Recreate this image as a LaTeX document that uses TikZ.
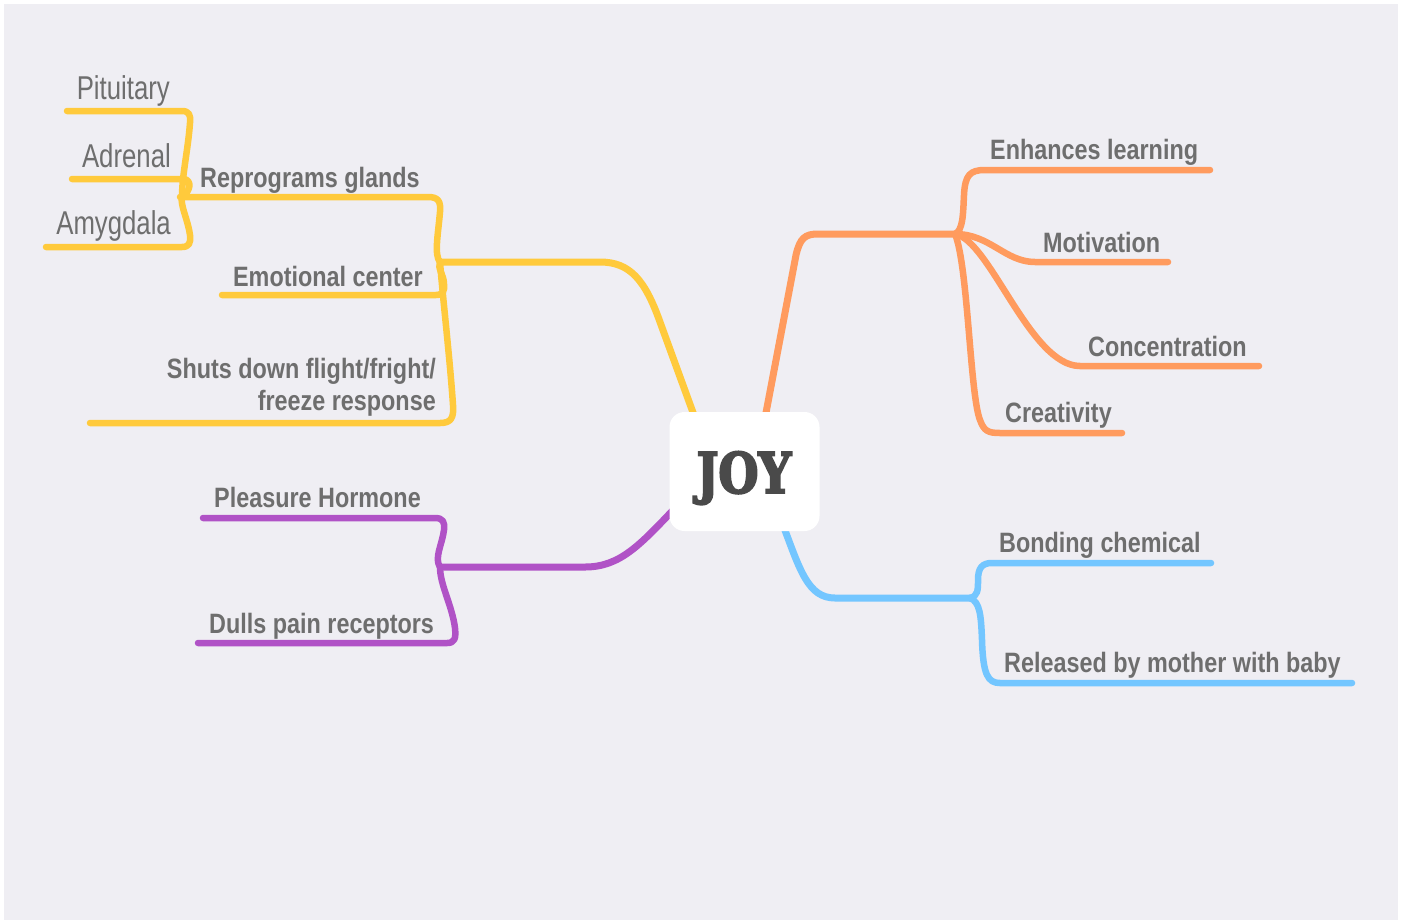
\documentclass[tikz,border=0pt]{standalone}
\usepackage{fontspec}
\setmainfont{Liberation Sans}
\newfontfamily\regf[FakeStretch=0.78]{Liberation Sans}
\newfontfamily\boldf[FakeStretch=0.835]{Liberation Sans}
\newfontfamily\joyf[FakeStretch=0.82,FakeBold=3.5]{DejaVu Serif}
\definecolor{bg}{HTML}{EFEEF3}
\definecolor{yel}{HTML}{FFCA3C}
\definecolor{ora}{HTML}{FF9B5E}
\definecolor{pur}{HTML}{B052C6}
\definecolor{blu}{HTML}{73C6FF}
\definecolor{txt}{RGB}{110,110,110}
\definecolor{joytxt}{HTML}{4A4A4A}
\tikzset{
  br/.style={line width=6.5pt, line cap=round, line join=round},
  mainbr/.style={line width=7pt, line cap=round, line join=round},
  lbl/.style={inner sep=0pt, text=txt, font=\boldf\bfseries\fontsize{28}{32}\selectfont},
  sublbl/.style={inner sep=0pt, text=txt, font=\regf\fontsize{33}{36}\selectfont},
}
\begin{document}
\begin{tikzpicture}[x=1pt,y=-1pt]
\useasboundingbox (0,0) rectangle (1404,922);
\fill[white] (0,0) rectangle (1404,922);
\fill[bg] (4,4) rectangle (1398,920);

% junctions
\coordinate (jy) at (440,262);
\coordinate (jr) at (182,197);
\coordinate (jp) at (440,567);
\coordinate (jo) at (955,234);
\coordinate (jb) at (970,598);
% line ends
\coordinate (eRep) at (180,197);
\coordinate (eEmo) at (222,295);
\coordinate (eShu) at (90,423);
\coordinate (ePit) at (67,111);
\coordinate (eAdr) at (72,179);
\coordinate (eAmy) at (46,247);
\coordinate (ePle) at (203,518);
\coordinate (eDul) at (198,643);
\coordinate (eEnh) at (1210,170);
\coordinate (eMot) at (1168,262);
\coordinate (eCon) at (1259,366);
\coordinate (eCre) at (1122,433);
\coordinate (eBon) at (1211,563);
\coordinate (eRel) at (1352,683);

% main branches
\draw[mainbr, yel] (695,418) -- (660,322) .. controls (645,280) and (630,262) .. (600,262) -- (jy);
\draw[mainbr, ora] (765,418) -- (796,255) .. controls (800,238) and (805,234) .. (818,234) -- (jo);
\draw[mainbr, pur] (676,507) .. controls (640,545) and (620,567) .. (585,567) -- (jp);
\draw[mainbr, blu] (783,525) .. controls (800,570) and (808,598) .. (835,598) -- (jb);

% yellow children
\draw[br, yel] (eRep) -- (428,197) .. controls (438,197) and (441,201) .. (440,212) .. controls (438,235) and (434,255) .. (jy);
\draw[br, yel] (eEmo) -- (436,295) .. controls (443,295) and (445,290) .. (444,284) .. controls (444,275) and (437,268) .. (jy);
\draw[br, yel] (eShu) -- (440,423) .. controls (451,423) and (454,418) .. (453,405) .. controls (450,360) and (443,300) .. (jy);
\draw[br, yel] (ePit) -- (182,111) .. controls (189,111) and (191,115) .. (190,123) .. controls (188,150) and (182,175) .. (jr);
\draw[br, yel] (eAdr) -- (184,179) .. controls (192,180) and (191,191) .. (jr);
\draw[br, yel] (eAmy) -- (182,247) .. controls (189,247) and (191,243) .. (190,235) .. controls (188,220) and (180,205) .. (jr);

% purple children
\draw[br, pur] (ePle) -- (435,518) .. controls (443,518) and (445,522) .. (444,530) .. controls (442,545) and (434,558) .. (jp);
\draw[br, pur] (eDul) -- (447,643) .. controls (455,643) and (456,638) .. (455,628) .. controls (452,605) and (440,585) .. (jp);

% orange children
\draw[br, ora] (jo) .. controls (963,230) and (963,215) .. (964,195) .. controls (965,175) and (970,170) .. (985,170) -- (eEnh);
\draw[br, ora] (jo) .. controls (990,234) and (1005,262) .. (1035,262) -- (eMot);
\draw[br, ora] (jo) .. controls (990,240) and (1030,366) .. (1080,366) -- (eCon);
\draw[br, ora] (jo) .. controls (968,265) and (970,395) .. (980,420) .. controls (984,431) and (988,433) .. (1000,433) -- (eCre);

% blue children
\draw[br, blu] (jb) .. controls (978,596) and (978,590) .. (978,580) .. controls (978,568) and (982,563) .. (992,563) -- (eBon);
\draw[br, blu] (jb) .. controls (980,602) and (981,615) .. (982,640) .. controls (983,675) and (988,683) .. (1000,683) -- (eRel);

% central node
\node[fill=white, rounded corners=15pt, minimum width=150pt, minimum height=119pt, inner sep=0pt] (joy) at (744.5,471.5) {};
\node[inner sep=0pt, anchor=base, text=joytxt, font=\joyf\bfseries\fontsize{56}{60}\selectfont] (joyt) at (744,493) {JOY};

% labels
\node[sublbl, anchor=base east] (pit) at (170,99) {Pituitary};
\node[sublbl, anchor=base east] (adr) at (171,167) {Adrenal};
\node[sublbl, anchor=base east] (amy) at (171,234) {Amygdala};
\node[lbl, anchor=base west] (rep) at (200,187) {Reprograms glands};
\node[lbl, anchor=base east] (emo) at (423,286) {Emotional center};
\node[lbl, anchor=base east, align=right] (shu1) at (436,378) {Shuts down flight/fright/};
\node[lbl, anchor=base east] (shu2) at (436,410) {freeze response};
\node[lbl, anchor=base west] (ple) at (214,507) {Pleasure Hormone};
\node[lbl, anchor=base west] (dul) at (209,633) {Dulls pain receptors};
\node[lbl, anchor=base west] (enh) at (990,159) {Enhances learning};
\node[lbl, anchor=base west] (mot) at (1043,252) {Motivation};
\node[lbl, anchor=base west] (con) at (1088,356) {Concentration};
\node[lbl, anchor=base west] (cre) at (1005,422) {Creativity};
\node[lbl, anchor=base west] (bon) at (999,552) {Bonding chemical};
\node[lbl, anchor=base west] (rel) at (1004,672) {Released by mother with baby};
\end{tikzpicture}
\end{document}
